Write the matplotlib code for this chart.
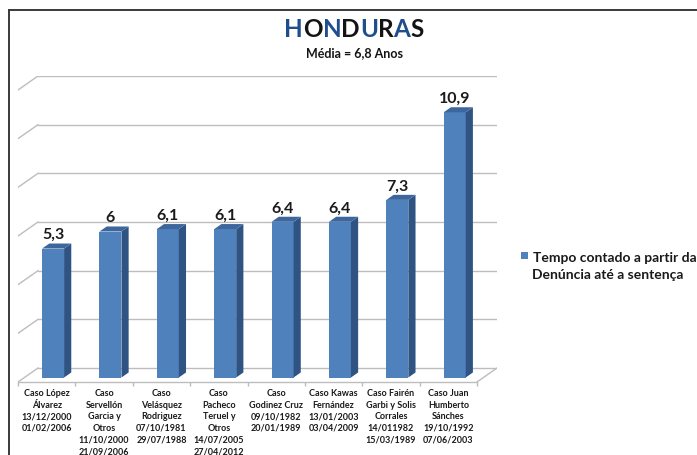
import matplotlib
matplotlib.use("Agg")
import matplotlib.pyplot as plt
from matplotlib.patches import Polygon, Rectangle
from matplotlib.lines import Line2D

# ---------------- data ----------------
categories = [
    "Caso López\nÁlvarez\n13/12/2000\n01/02/2006",
    "Caso\nServellón\nGarcia y\nOtros\n11/10/2000\n21/09/2006",
    "Caso\nVelásquez\nRodriguez\n07/10/1981\n29/07/1988",
    "Caso\nPacheco\nTeruel y\nOtros\n14/07/2005\n27/04/2012",
    "Caso\nGodinez Cruz\n09/10/1982\n20/01/1989",
    "Caso Kawas\nFernández\n13/01/2003\n03/04/2009",
    "Caso Fairén\nGarbi y Solis\nCorrales\n14/011982\n15/03/1989",
    "Caso Juan\nHumberto\nSánches\n19/10/1992\n07/06/2003",
]
values = [5.3, 6.0, 6.1, 6.1, 6.4, 6.4, 7.3, 10.9]
value_labels = ["5,3", "6", "6,1", "6,1", "6,4", "6,4", "7,3", "10,9"]
y_ticks = [0, 2, 4, 6, 8, 10, 12]
title_letters = list("HONDURAS")
subtitle = "Média = 6,8 Anos"
legend_lines = ["Tempo contado a partir da", "Denúncia até a sentença"]

# ---------------- style ----------------
FONT = ["Lato", "DejaVu Sans"]
plt.rcParams["font.family"] = FONT
FRONT = "#4F81BD"
SIDE = "#2F5383"
TOP = "#3D679C"
GRID = "#BDBDBD"
BLUE_T = "#1F4E8C"
BLACK_T = "#141414"

W, H = 697, 455
fig = plt.figure(figsize=(W / 100, H / 100), dpi=100)

# pseudo-3D geometry (in data units)
DX = 20 / 57.4      # depth shift in category units
DY = 14 / 24.33     # depth shift in value units
F0, F1 = 0.32, 0.68  # bar front / back depth fractions
BW = 0.383           # bar width (categories)

left_px, right_px = 18, 497
bot_px, top_px = 382, 76
ax = fig.add_axes([left_px / W, (H - bot_px) / H,
                   (right_px - left_px) / W, (bot_px - top_px) / H])
ax.set_xlim(-0.5, 7.5 + DX)
ax.set_ylim(-DY, 12)
ax.set_facecolor("none")
for s in ["top", "right", "left"]:
    ax.spines[s].set_visible(False)
ax.spines["bottom"].set_bounds(-0.5, 7.5)
ax.spines["bottom"].set_color(GRID)
ax.spines["bottom"].set_linewidth(1)

# back wall gridlines + left wall slants
n = len(values)
for v in y_ticks:
    ax.plot([-0.5 + DX, n - 0.5 + DX], [v, v], color=GRID, lw=1, zorder=1)
    ax.plot([-0.5, -0.5 + DX], [v - DY, v], color=GRID, lw=1, zorder=1)
# right edge of floor
ax.plot([n - 0.5, n - 0.5 + DX], [-DY, 0], color=GRID, lw=1, zorder=1)

# bars
xs = [i + F0 * DX for i in range(n)]
base0 = -DY * (1 - F0)
base1 = -DY * (1 - F1)
ax.bar(xs, values, width=BW, bottom=base0, color=FRONT, zorder=3, linewidth=0)
ddx = (F1 - F0) * DX
for x, v, lab in zip(xs, values, value_labels):
    xl, xr = x - BW / 2, x + BW / 2
    side = Polygon([(xr, base0), (xr + ddx, base1), (xr + ddx, base1 + v),
                    (xr, base0 + v)], closed=True, facecolor=SIDE,
                   edgecolor="none", zorder=3)
    top = Polygon([(xl, base0 + v), (xr, base0 + v), (xr + ddx, base1 + v),
                   (xl + ddx, base1 + v)], closed=True, facecolor=TOP,
                  edgecolor="none", zorder=3)
    ax.add_patch(side)
    ax.add_patch(top)
    ax.annotate(lab, xy=(x, base1 + v), xytext=(0, 1), textcoords="offset points",
                ha="center", va="bottom", fontsize=11.5, fontweight="bold",
                color="#1a1a1a", zorder=4)

# x tick labels
ax.set_xticks(range(n))
ax.set_xticklabels(categories, fontsize=6.5, fontweight="bold", color="#1a1a1a",
                   linespacing=1.38)
ax.tick_params(axis="x", which="major", length=0, pad=5)
ax.set_xticks([i - 0.5 for i in range(n + 1)], minor=True)
ax.tick_params(axis="x", which="minor", length=3, color=GRID, width=1)
ax.set_yticks([])

# frame lines
fig.add_artist(Line2D([9 / W, 9 / W], [0, 1 - 10 / H], transform=fig.transFigure,
                      color="#3a3a3a", lw=1.4))
fig.add_artist(Line2D([9 / W, 1], [1 - 10 / H, 1 - 10 / H], transform=fig.transFigure,
                      color="#3a3a3a", lw=1.4))

# title with alternating colours
fig.canvas.draw()
r = fig.canvas.get_renderer()
tt = []
widths = []
for k, ch in enumerate(title_letters):
    c = BLUE_T if k % 2 == 0 else BLACK_T
    t = fig.text(0, 1 - 37 / H, ch, fontsize=17.5, fontweight="bold", color=c,
                 ha="left", va="baseline")
    tt.append(t)
    widths.append(t.get_window_extent(r).width)
total = sum(widths)
x0 = 354 - total / 2
for t, w in zip(tt, widths):
    t.set_x(x0 / W)
    x0 += w

fig.text(354 / W, 1 - 57 / H, subtitle, fontsize=9, fontweight="bold",
         color=BLACK_T, ha="center", va="baseline")

# legend (manual)
fig.add_artist(Rectangle((521 / W, 1 - 259 / H), 7 / W, 7 / H,
                         transform=fig.transFigure, facecolor=FRONT,
                         edgecolor="none"))
fig.text(533 / W, 1 - 262 / H, legend_lines[0], fontsize=10, fontweight="bold",
         color="#1a1a1a", ha="left", va="baseline")
fig.text(532 / W, 1 - 279 / H, legend_lines[1], fontsize=10, fontweight="bold",
         color="#1a1a1a", ha="left", va="baseline")

fig.savefig("out.png", dpi=100)
